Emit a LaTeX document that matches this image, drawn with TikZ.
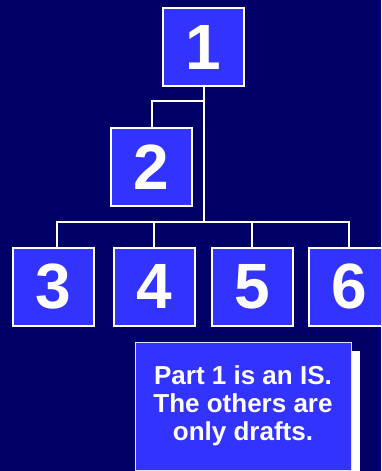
\documentclass[tikz,border=0pt]{standalone}
\usepackage{fontspec}
\setmainfont{Liberation Sans}
\usetikzlibrary{shadows}
\definecolor{slidebg}{HTML}{000066}
\definecolor{partblue}{HTML}{3333FF}
\tikzset{
  part/.style={draw=white, line width=2pt, fill=partblue, text=white,
    minimum width=81pt, minimum height=78pt, inner sep=0pt,
    font=\fontsize{64}{64}\selectfont\bfseries},
  link/.style={draw=white, line width=2pt},
  notebox/.style={draw=white!85!partblue, line width=0.8pt, fill=partblue, text=white,
    minimum width=216pt, minimum height=128pt, align=center,
    font=\fontsize{26}{28}\selectfont\bfseries,
    drop shadow={shadow xshift=9pt, shadow yshift=-9pt, fill=white, opacity=1}}
}
\begin{document}
\begin{tikzpicture}[x=1pt,y=-1pt]
\fill[slidebg] (0,0) rectangle (381,471);
\useasboundingbox (0,0) rectangle (381,471);
\clip (0,0) rectangle (381,471);

\node[part] (p1) at (203.5,47) {1};
\node[part] (p2) at (151.5,167) {2};
\node[part] (p3) at (53,286.5) {3};
\node[part] (p4) at (154,286.5) {4};
\node[part] (p5) at (252,286.5) {5};
\node[part] (p6) at (349,286.5) {6};
\coordinate (bus) at (0,222);

\draw[link] (p1.south) -- (p1.south |- bus);
\draw[link] (p1.south) ++(0,14) -| (p2.north);
\draw[link] ([xshift=4pt]p3.north) |- (p6.north |- bus) -- (p6.north);
\draw[link] (p4.north) -- (p4.north |- bus);
\draw[link] (p5.north) -- (p5.north |- bus);

\node[notebox] (note) at (243,406) {Part 1 is an IS.\\The others are\\only drafts.};
\end{tikzpicture}
\end{document}
